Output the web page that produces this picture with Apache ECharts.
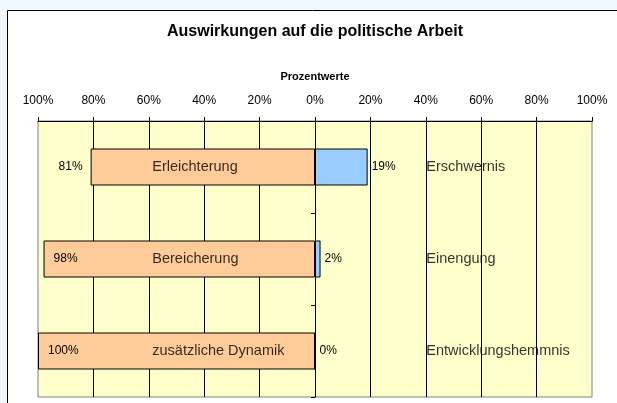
<!DOCTYPE html>
<html>
<head>
<meta charset="utf-8">
<script src="https://cdn.jsdelivr.net/npm/echarts@6/dist/echarts.min.js"></script>
<style>
html,body{margin:0;padding:0;background:#F0F7FD;}
#c{width:617px;height:403px;}
</style>
</head>
<body>
<div id="c"></div>
<script>
const titleText = 'Auswirkungen auf die politische Arbeit';
const axisTitle = 'Prozentwerte';
const leftCategories = ['Erleichterung', 'Bereicherung', 'zusätzliche Dynamik'];
const rightCategories = ['Erschwernis', 'Einengung', 'Entwicklungshemmnis'];
const leftValues = [81, 98, 100];
const rightValues = [19, 2, 0];
const axisMin = -100, axisMax = 100, axisStep = 20;
const leftNamePos = -60;
const rightNamePos = 40;

const FONT = 'Liberation Sans, Arial, sans-serif';
const chart = echarts.init(document.getElementById('c'), null, {renderer: 'canvas'});

const leftData = leftValues.map(v => {
  const outside = v < 90;
  return {
    value: -v,
    label: outside ? {position: 'left', distance: 8} : {position: 'insideLeft', distance: 10}
  };
});

chart.setOption({
  animation: false,
  backgroundColor: 'transparent',
  graphic: [
    {type: 'rect', z: -10, shape: {x: 7.5, y: 10.5, width: 800, height: 600},
     style: {fill: '#ffffff', stroke: '#000', lineWidth: 1}},
    {type: 'text', x: 315, y: 32, style: {text: titleText, textAlign: 'center', textVerticalAlign: 'middle',
      font: 'bold 16px ' + FONT, fill: '#000'}},
    {type: 'text', x: 315, y: 77, style: {text: axisTitle, textAlign: 'center', textVerticalAlign: 'middle',
      font: 'bold 11px ' + FONT, fill: '#000'}}
  ],
  grid: {left: 38, right: 25, top: 121, bottom: 6, show: true, backgroundColor: '#FFFFCC',
         borderColor: '#808080', borderWidth: 1},
  xAxis: {
    type: 'value', position: 'top', min: axisMin, max: axisMax, interval: axisStep,
    axisLine: {show: true, lineStyle: {color: '#000', width: 1}},
    axisTick: {show: true, length: 4, lineStyle: {color: '#000'}},
    axisLabel: {margin: 14, fontSize: 12, fontFamily: FONT, color: '#000',
      formatter: v => Math.abs(v) + '%'},
    splitLine: {show: true, showMinLine: false, showMaxLine: false, lineStyle: {color: '#000', width: 1}}
  },
  yAxis: {
    type: 'category', inverse: true, data: leftCategories,
    axisLine: {show: true, onZero: true, lineStyle: {color: '#000'}},
    axisTick: {show: true, length: 4, lineStyle: {color: '#000'}},
    axisLabel: {show: false},
    splitLine: {show: false}
  },
  series: [
    {
      type: 'bar', name: 'links', data: leftData, barWidth: 37, barGap: '-100%',
      itemStyle: {color: '#FFCC99', borderColor: '#000', borderWidth: 1},
      label: {show: true, fontSize: 12, fontFamily: FONT, color: '#000',
        formatter: p => Math.abs(p.value) + '%'}
    },
    {
      type: 'bar', name: 'rechts', data: rightValues, barWidth: 37, barGap: '-100%',
      itemStyle: {color: '#99CCFF', borderColor: '#000', borderWidth: 1},
      label: {show: true, position: 'right', distance: 4, fontSize: 12, fontFamily: FONT, color: '#000',
        formatter: p => p.value + '%'}
    },
    {
      type: 'scatter', z: 5, symbolSize: 1, itemStyle: {color: 'transparent'},
      data: leftCategories.map((c, i) => [leftNamePos, i]),
      label: {show: true, position: 'right', distance: 3, fontSize: 14.5, fontFamily: FONT, color: '#000',
        formatter: p => leftCategories[p.dataIndex]}
    },
    {
      type: 'scatter', z: 5, symbolSize: 1, itemStyle: {color: 'transparent'},
      data: rightCategories.map((c, i) => [rightNamePos, i]),
      label: {show: true, position: 'right', distance: 0, fontSize: 14.5, fontFamily: FONT, color: '#000',
        formatter: p => rightCategories[p.dataIndex]}
    }
  ]
});
</script>
</body>
</html>
